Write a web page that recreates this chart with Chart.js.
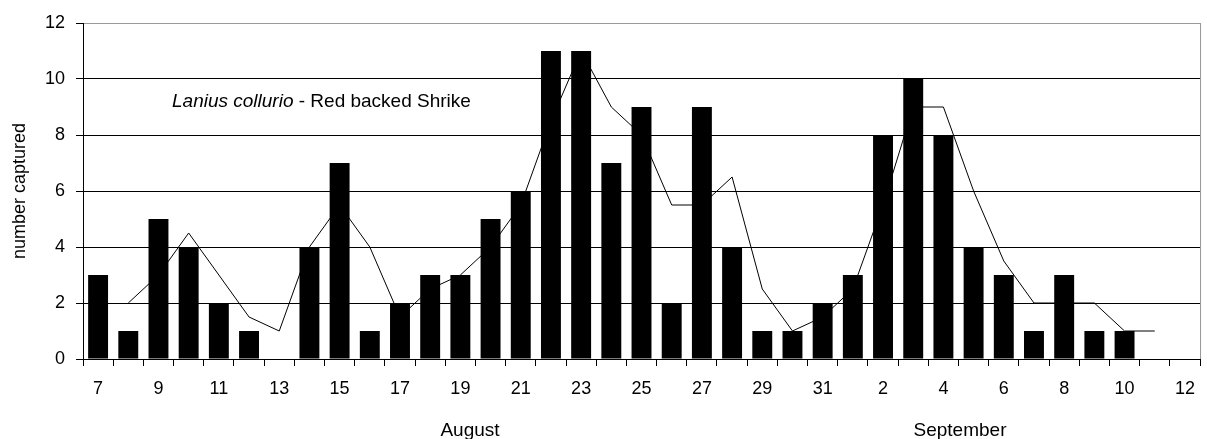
<!DOCTYPE html>
<html>
<head>
<meta charset="utf-8">
<script src="https://cdn.jsdelivr.net/npm/chart.js@4.4.0/dist/chart.umd.min.js"></script>
<style>
  html, body { margin: 0; padding: 0; background: #fff; }
  #wrap { width: 1207px; height: 439px; }
</style>
</head>
<body>
<div id="wrap"><canvas id="shrikeChart" width="1207" height="439"></canvas></div>
<script>
const days = [
  "7", "8", "9", "10", "11", "12", "13", "14", "15", "16", "17", "18", "19",
  "20", "21", "22", "23", "24", "25", "26", "27", "28", "29", "30", "31",
  "1", "2", "3", "4", "5", "6", "7", "8", "9", "10", "11", "12"
];

const captured = [
  3, 1, 5, 4, 2, 1, null, 4, 7, 1, 2, 3, 3, 5, 6, 11, 11, 7, 9, 2, 9, 4, 1, 1, 2,
  3, 8, 10, 8, 4, 3, 1, 3, 1, 1, null, null
];

const movingAvg = [
  null, 2, 3, 4.5, 3, 1.5, 1, 4, 5.5, 4, 1.5, 2.5, 3, 4, 5.5, 8.5, 11, 9, 8, 5.5, 5.5, 6.5, 2.5, 1, 1.5,
  2.5, 5.5, 9, 9, 6, 3.5, 2, 2, 2, 1, 1, null
];

const yTicks = [0, 2, 4, 6, 8, 10, 12];

const FONT = "'Liberation Sans', Arial, sans-serif";

// titles and month names drawn straight on the canvas
const textPlugin = {
  id: "shrikeText",
  afterDraw(chart) {
    const ctx = chart.ctx;
    const area = chart.chartArea;
    ctx.save();

    // right border of the plot
    ctx.strokeStyle = "#999";
    ctx.lineWidth = 1;
    ctx.beginPath();
    ctx.moveTo(area.right + 0.5, area.top);
    ctx.lineTo(area.right + 0.5, area.bottom);
    ctx.stroke();

    ctx.fillStyle = "#000";
    ctx.textBaseline = "alphabetic";
    ctx.textAlign = "left";
    ctx.font = `italic 19px ${FONT}`;
    const latin = "Lanius collurio";
    ctx.fillText(latin, 172, 107);
    const w = ctx.measureText(latin).width;
    ctx.font = `19px ${FONT}`;
    ctx.fillText(" - Red backed Shrike", 172 + w, 107);

    ctx.textAlign = "center";
    ctx.fillText("August", 470, 436);
    ctx.fillText("September", 960, 436);
    ctx.restore();
  }
};

function initChart() {
  const ctx = document.getElementById("shrikeChart");

  new Chart(ctx, {
    data: {
      labels: days,
      datasets: [
        {
          type: "line",
          data: movingAvg,
          borderColor: "#000",
          borderWidth: 1,
          pointRadius: 0,
          tension: 0,
          order: 2
        },
        {
          type: "bar",
          data: captured,
          backgroundColor: "#000",
          categoryPercentage: 1,
          barPercentage: 0.66,
          order: 1
        }
      ]
    },
    options: {
      responsive: false,
      animation: false,
      events: [],
      layout: { padding: { top: 23, right: 4, left: 0, bottom: 0 } },
      plugins: {
        legend: { display: false },
        tooltip: { enabled: false }
      },
      scales: {
        x: {
          offset: true,
          grid: {
            offset: true,
            drawOnChartArea: false,
            tickLength: 7,
            color: "#000"
          },
          border: { color: "#000" },
          ticks: {
            autoSkip: false,
            maxRotation: 0,
            color: "#000",
            padding: 12,
            font: { family: FONT, size: 18 },
            callback: (value, index) => index % 2 === 0 ? days[index] : ""
          },
          afterFit: scale => { scale.height = 80; }
        },
        y: {
          min: 0,
          max: 12,
          afterBuildTicks: scale => {
            scale.ticks = yTicks.map(v => ({ value: v }));
          },
          grid: {
            color: c => c.tick && c.tick.value === 12 ? "#999" : "#000",
            tickColor: "#000",
            tickLength: 7
          },
          border: { color: "#000" },
          ticks: {
            color: "#000",
            padding: 11,
            font: { family: FONT, size: 18 }
          },
          title: {
            display: true,
            text: "number captured",
            color: "#000",
            padding: { top: 9, bottom: 0 },
            font: { family: FONT, size: 18 }
          },
          afterFit: scale => { scale.width = 83; }
        }
      }
    },
    plugins: [textPlugin]
  });
}

document.addEventListener("DOMContentLoaded", initChart);
</script>
</body>
</html>
